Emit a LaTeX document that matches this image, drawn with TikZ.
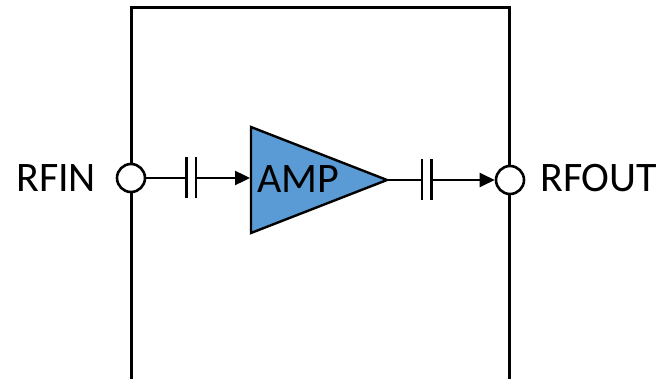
\documentclass[tikz,border=0pt]{standalone}
\usepackage{fontspec}
\setmainfont{Carlito}
\usetikzlibrary{arrows.meta}
\definecolor{ampblue}{HTML}{5B9BD5}
\tikzset{
  wire/.style={line width=2.4pt, black},
  plate/.style={line width=2.8pt, black},
  port/.style={circle, draw=black, fill=white, line width=2.6pt, minimum size=28pt, inner sep=0pt},
  lbl/.style={font=\fontsize{42}{42}\selectfont, inner sep=0pt, anchor=base},
  sig/.style={wire, -{Triangle[length=15pt,width=14pt]}},
}
\begin{document}
\begin{tikzpicture}[x=1pt,y=-1pt]
\useasboundingbox (0,0) rectangle (671,379);
% enclosure
\draw[line width=3pt, line cap=butt] (131.5,384) -- (131.5,8) -- (509.5,8) -- (509.5,384);
% ports
\node[port] (in) at (131,178) {};
\node[port] (out) at (510,180) {};
% amplifier
\coordinate (t1) at (251,127);
\coordinate (t2) at (251,233);
\coordinate (t3) at (387,180);
\draw[fill=ampblue, line width=2.4pt, line join=miter] (t1) -- (t3) -- (t2) -- cycle;
\node[lbl] (amp) at (298.5,193) {AMP};
\coordinate (ampin) at (250,178);
% input capacitor
\coordinate (c1a) at (186.5,178);
\coordinate (c1b) at (196,178);
\draw[wire] (in) -- (c1a);
\draw[plate] ([yshift=-20.5pt]c1a) -- ([yshift=20.5pt]c1a);
\draw[plate] ([yshift=-20.5pt]c1b) -- ([yshift=20.5pt]c1b);
\draw[sig] (c1b) -- (ampin);
% output capacitor
\coordinate (c2a) at (422,180);
\coordinate (c2b) at (431.5,180);
\draw[wire] (t3) -- (c2a);
\draw[plate] ([yshift=-20.5pt]c2a) -- ([yshift=20.5pt]c2a);
\draw[plate] ([yshift=-20.5pt]c2b) -- ([yshift=20.5pt]c2b);
\draw[sig] (c2b) -- (out);
% labels
\node[lbl, anchor=base west] (rfin) at (16,192) {RFIN};
\node[lbl, anchor=base west] (rfout) at (540,192) {RFOUT};
\end{tikzpicture}
\end{document}
